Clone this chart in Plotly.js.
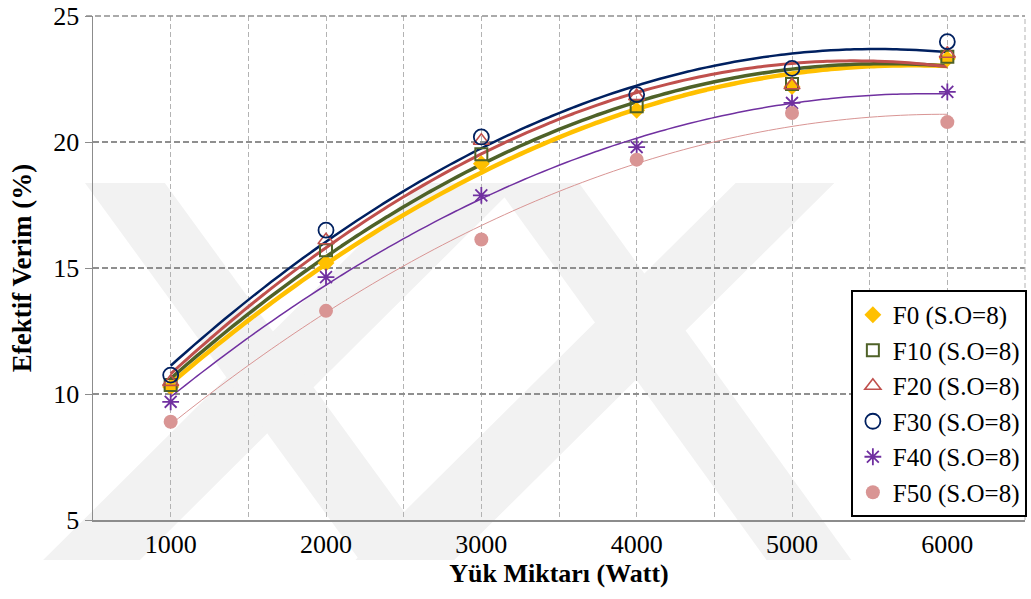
<!DOCTYPE html>
<html>
<head>
<meta charset="utf-8">
<script src="https://cdn.plot.ly/plotly-3.0.1.min.js"></script>
<style>
html,body{margin:0;padding:0;background:#fff;}
#chart{width:1031px;height:599px;}
</style>
</head>
<body>
<div id="chart"></div>
<script>
// ---- data ----
const loads = [1000, 2000, 3000, 4000, 5000, 6000];
const tickLabels = ['1000', '2000', '3000', '4000', '5000', '6000'];
const seriesNames = ['F0 (S.O=8)', 'F10 (S.O=8)', 'F20 (S.O=8)', 'F30 (S.O=8)', 'F40 (S.O=8)', 'F50 (S.O=8)'];
const F0  = [10.28, 15.20, 19.14, 21.26, 22.20, 23.30];
const F10 = [10.36, 15.70, 19.51, 21.42, 22.30, 23.38];
const F20 = [10.48, 16.10, 20.05, 21.82, 22.25, 23.50];
const F30 = [10.75, 16.50, 20.20, 21.88, 22.92, 23.98];
const F40 = [9.69, 14.64, 17.88, 19.80, 21.55, 21.99];
const F50 = [8.90, 13.30, 16.13, 19.30, 21.15, 20.79];

// ---- styles ----
const seriesData = [F0, F10, F20, F30, F40, F50];
const colors = ['#FFC000', '#4F6228', '#C0504D', '#002060', '#7030A0', '#D99594'];
const lineWidths = [4.5, 3.5, 3, 2.5, 1.5, 1];
const markers = [
  {symbol: 'diamond', size: 13, color: '#FFC000', line: {width: 0}},
  {symbol: 'square-open', size: 12, color: '#4F6228', line: {width: 2, color: '#4F6228'}},
  {symbol: 'triangle-up-open', size: 14, color: '#C0504D', line: {width: 1.6, color: '#C0504D'}},
  {symbol: 'circle-open', size: 15, color: '#002060', line: {width: 1.8, color: '#002060'}},
  {symbol: 'asterisk-open', size: 14, color: '#7030A0', line: {width: 1.8, color: '#7030A0'}},
  {symbol: 'circle', size: 14, color: '#D99594', line: {width: 0}}
];

// 2nd-order polynomial trendline (least squares), like the spreadsheet trendline
function quadFit(xs, ys) {
  const u = xs.map(x => x / 1000);
  let s = [0,0,0,0,0], t = [0,0,0];
  for (let i = 0; i < u.length; i++) {
    let p = 1;
    for (let k = 0; k <= 4; k++) { s[k] += p; if (k <= 2) t[k] += p * ys[i]; p *= u[i]; }
  }
  const A = [[s[0],s[1],s[2],t[0]],[s[1],s[2],s[3],t[1]],[s[2],s[3],s[4],t[2]]];
  for (let c = 0; c < 3; c++) {
    for (let r = c + 1; r < 3; r++) {
      const f = A[r][c] / A[c][c];
      for (let k = c; k < 4; k++) A[r][k] -= f * A[c][k];
    }
  }
  const coef = [0,0,0];
  for (let r = 2; r >= 0; r--) {
    let v = A[r][3];
    for (let k = r + 1; k < 3; k++) v -= A[r][k] * coef[k];
    coef[r] = v / A[r][r];
  }
  return x => { const q = x / 1000; return coef[0] + coef[1] * q + coef[2] * q * q; };
}

const traces = [];
const xMin = loads[0], xMax = loads[loads.length - 1];
seriesData.forEach((ys, i) => {
  const f = quadFit(loads, ys);
  const xs = [], yv = [];
  for (let k = 0; k <= 100; k++) { const x = xMin + (xMax - xMin) * k / 100; xs.push(x); yv.push(f(x)); }
  traces.push({x: xs, y: yv, mode: 'lines', line: {color: colors[i], width: lineWidths[i], shape: 'spline'},
               showlegend: false, hoverinfo: 'skip'});
});
seriesData.forEach((ys, i) => {
  traces.push({x: loads, y: ys, mode: 'markers', name: seriesNames[i], marker: markers[i]});
});

// ---- watermark (light grey bands) ----
const L = 93, R = 1027, T = 16, B = 520;
const px = (x, y) => [(x - L) / (R - L), (B - y) / (B - T)];
const bands = [
  [[43,560],[140,560],[520,183],[423,183]],
  [[85,183],[165,183],[440,560],[360,560]],
  [[356,560],[455,560],[836,183],[737,183]],
  [[495,183],[580,183],[853,560],[768,560]]
];
const shapes = bands.map(b => {
  const pts = b.map(p => px(p[0], p[1]));
  return {type: 'path', xref: 'paper', yref: 'paper', layer: 'below',
          path: 'M' + pts.map(p => p[0].toFixed(4) + ',' + p[1].toFixed(4)).join('L') + 'Z',
          fillcolor: '#f2f2f2', line: {width: 0}};
});
// plot frame lines at the top (25) and right (6500) edges, dashed like the grid
shapes.push({type: 'line', xref: 'paper', yref: 'paper', x0: -0.0075, x1: 1, y0: 1, y1: 1,
             line: {color: '#8f8f8f', width: 1.3, dash: '6px,3px'}});
shapes.push({type: 'line', xref: 'paper', yref: 'paper', x0: 1, x1: 1, y0: 0, y1: 1,
             line: {color: '#b3b3b3', width: 1, dash: '5px,3px'}});

const gridVals = [];
for (let v = 500; v <= 6500; v += 500) gridVals.push(v);
const gridText = gridVals.map(v => { const idx = loads.indexOf(v); return idx >= 0 ? tickLabels[idx] : ''; });

const font = 'Liberation Serif';
const layout = {
  width: 1031, height: 599,
  margin: {l: 93, r: 4, t: 16, b: 79},
  paper_bgcolor: '#ffffff',
  plot_bgcolor: 'rgba(0,0,0,0)',
  font: {family: font, size: 26, color: '#000'},
  shapes: shapes,
  xaxis: {
    range: [500, 6500], tickmode: 'array', tickvals: gridVals, ticktext: gridText,
    showgrid: true, gridcolor: '#b3b3b3', gridwidth: 1, griddash: '5px,3px',
    showline: true, linecolor: '#8c8c8c', linewidth: 1.5, ticks: '', zeroline: false,
    tickfont: {family: font, size: 26, color: '#000'},
    title: {text: '<b>Yük Miktarı (Watt)</b>', font: {family: font, size: 26, color: '#000'}, standoff: 6}
  },
  yaxis: {
    range: [5, 25], tickvals: [5, 10, 15, 20, 25], ticktext: ['5', '10', '15', '20', '25'],
    showgrid: true, gridcolor: '#8f8f8f', gridwidth: 1.3, griddash: '6px,3px',
    showline: true, linecolor: '#8c8c8c', linewidth: 1.5, ticks: 'outside', ticklen: 7, tickcolor: '#8c8c8c',
    zeroline: false,
    tickfont: {family: font, size: 26, color: '#000'},
    title: {text: '<b>Efektif Verim (%)</b>', font: {family: font, size: 27, color: '#000'}, standoff: 14}
  },
  legend: {
    x: 1.002, xanchor: 'right', y: 0.006, yanchor: 'bottom',
    bgcolor: '#ffffff', bordercolor: '#000', borderwidth: 2,
    font: {family: font, size: 25, color: '#000'},
    itemwidth: 30, tracegroupgap: 0
  },
  showlegend: true
};

Plotly.newPlot('chart', traces, layout, {staticPlot: true, displayModeBar: false});
</script>
</body>
</html>
